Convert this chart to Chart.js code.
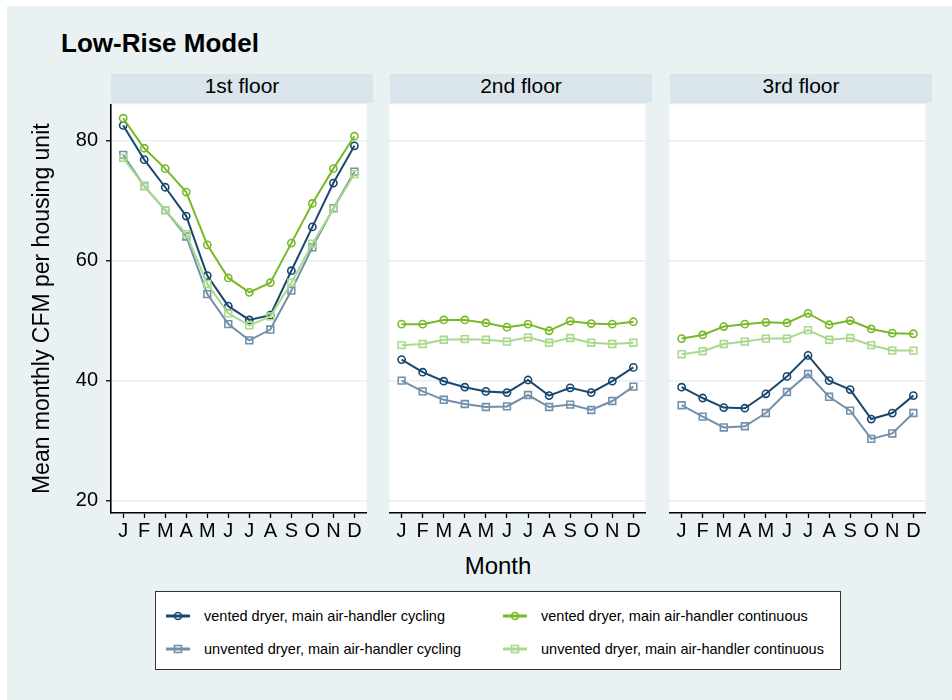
<!DOCTYPE html>
<html>
<head>
<meta charset="utf-8">
<script src="https://cdn.jsdelivr.net/npm/chart.js@4.4.1/dist/chart.umd.min.js"></script>
<style>
  body { margin:0; background:#fff; font-family:"Liberation Sans", Arial, sans-serif; color:#000; }
  #bg { position:absolute; left:7px; top:6px; width:945px; height:694px; background:#eaf1f3; }
  canvas { position:absolute; top:98px; }
  .title { position:absolute; left:61px; top:30px; font-size:26px; font-weight:bold; line-height:26px; white-space:nowrap; }
  .strip { position:absolute; top:74px; width:262px; height:29px; background:#d9e5eb; text-align:center; font-size:21px; line-height:23px; }
  .xtitle { position:absolute; left:398px; width:200px; top:554px; text-align:center; font-size:24px; line-height:24px; }
  #legend { position:absolute; left:155px; top:591px; width:684px; height:77px; background:#fff; border:1px solid #333; }
  .item { position:absolute; font-size:14.5px; line-height:16px; white-space:nowrap; }
  .item svg { position:absolute; left:0; top:2px; }
  .item span { position:absolute; left:38px; top:0; }
</style>
</head>
<body>
<div id="bg"></div>
<div class="title">Low-Rise Model</div>
<div class="strip" style="left:111px">1st floor</div>
<div class="strip" style="left:390px">2nd floor</div>
<div class="strip" style="left:670px">3rd floor</div>
<canvas id="p1" width="353" height="452" style="left:20px"></canvas>
<canvas id="p2" width="269" height="452" style="left:383px"></canvas>
<canvas id="p3" width="269" height="452" style="left:663px"></canvas>
<div class="xtitle">Month</div>
<div id="legend"></div>

<script>
// --- data ---
const months = ["J","F","M","A","M","J","J","A","S","O","N","D"];
const yTicks = [20, 40, 60, 80];
const floors = ["1st floor", "2nd floor", "3rd floor"];

// vented dryer, main air-handler cycling
const ventedCycling1 = [82.5, 76.8, 72.2, 67.4, 57.5, 52.4, 50.1, 50.9, 58.3, 65.6, 72.9, 79.1];
const ventedCycling2 = [43.5, 41.4, 39.9, 38.9, 38.2, 38.0, 40.1, 37.5, 38.8, 38.0, 39.9, 42.2];
const ventedCycling3 = [38.9, 37.1, 35.5, 35.4, 37.8, 40.7, 44.2, 40.0, 38.5, 33.6, 34.6, 37.5];
// vented dryer, main air-handler continuous
const ventedContinuous1 = [83.7, 78.7, 75.3, 71.4, 62.6, 57.1, 54.7, 56.3, 62.9, 69.5, 75.3, 80.7];
const ventedContinuous2 = [49.4, 49.4, 50.1, 50.1, 49.6, 48.9, 49.4, 48.3, 49.9, 49.5, 49.4, 49.8];
const ventedContinuous3 = [47.0, 47.6, 49.0, 49.4, 49.7, 49.6, 51.2, 49.3, 50.0, 48.6, 47.9, 47.8];
// unvented dryer, main air-handler cycling
const unventedCycling1 = [77.6, 72.4, 68.4, 64.0, 54.4, 49.4, 46.7, 48.5, 55.0, 62.2, 68.7, 74.8];
const unventedCycling2 = [40.0, 38.2, 36.8, 36.1, 35.6, 35.7, 37.6, 35.6, 36.0, 35.1, 36.6, 39.0];
const unventedCycling3 = [35.9, 34.0, 32.2, 32.4, 34.6, 38.1, 41.1, 37.3, 35.0, 30.3, 31.2, 34.6];
// unvented dryer, main air-handler continuous
const unventedContinuous1 = [77.1, 72.4, 68.4, 64.4, 56.1, 51.2, 49.2, 50.7, 56.3, 62.8, 68.6, 74.4];
const unventedContinuous2 = [45.9, 46.1, 46.8, 46.9, 46.8, 46.5, 47.2, 46.3, 47.1, 46.3, 46.1, 46.3];
const unventedContinuous3 = [44.4, 44.9, 46.1, 46.5, 47.0, 47.0, 48.4, 46.8, 47.1, 45.9, 45.0, 45.0];

// legend order (row by row, two columns)
const seriesInfo = [
  { label:"vented dryer, main air-handler cycling",      color:"#1a476f", style:"circle", data:[ventedCycling1, ventedCycling2, ventedCycling3] },
  { label:"vented dryer, main air-handler continuous",   color:"#78b928", style:"circle", data:[ventedContinuous1, ventedContinuous2, ventedContinuous3] },
  { label:"unvented dryer, main air-handler cycling",    color:"#7290aa", style:"rect",   data:[unventedCycling1, unventedCycling2, unventedCycling3] },
  { label:"unvented dryer, main air-handler continuous", color:"#a8d98c", style:"rect",   data:[unventedContinuous1, unventedContinuous2, unventedContinuous3] }
];
// stata draws in plot order: cycling first, continuous later
const drawOrder = [4, 2, 3, 1];

// white plot region
const plotBg = {
  id: "plotBg",
  beforeDraw(c) {
    const a = c.chartArea;
    c.ctx.save();
    c.ctx.fillStyle = "#fff";
    c.ctx.fillRect(a.left, a.top, a.right - a.left, a.bottom - a.top);
    c.ctx.restore();
  }
};

function noPad(s) {
  s.paddingLeft = 0; s.paddingRight = 0; s.paddingTop = 0; s.paddingBottom = 0;
}

function makePanel(id, f, showY) {
  const datasets = seriesInfo.map((s, k) => ({
    label: s.label,
    data: s.data[f].map((v, i) => ({ x: i + 1, y: v })),
    borderColor: s.color,
    borderWidth: 2,
    pointStyle: s.style,
    pointRadius: s.style === "circle" ? 3.6 : 4.8,
    pointBorderWidth: 1.6,
    pointBorderColor: s.color,
    pointBackgroundColor: "rgba(0,0,0,0)",
    tension: 0,
    order: drawOrder[k]
  }));
  return new Chart(document.getElementById(id), {
    type: "line",
    data: { datasets },
    options: {
      responsive: false,
      animation: false,
      layout: { padding: { top: 5, right: 0, left: 0, bottom: 0 } },
      plugins: { legend: { display: false }, tooltip: { enabled: false } },
      scales: {
        x: {
          type: "linear", min: 0.42, max: 12.58,
          afterBuildTicks: s => { s.ticks = months.map((m, i) => ({ value: i + 1 })); },
          afterFit: s => { s.height = 37; noPad(s); },
          ticks: { autoSkip: false, maxRotation: 0, padding: 1, color: "#000",
                   font: { family: "Liberation Sans", size: 20 },
                   callback: v => months[v - 1] },
          grid: { drawOnChartArea: false, tickLength: 5, tickColor: "#000", tickWidth: 1.3 },
          border: { color: "#000", width: 1.6 }
        },
        y: {
          min: 17.95, max: 86,
          afterBuildTicks: s => { s.ticks = yTicks.map(v => ({ value: v })); },
          afterFit: s => { s.width = showY ? 91 : 0; noPad(s); },
          ticks: { display: showY, padding: 8, color: "#000",
                   font: { family: "Liberation Sans", size: 20 } },
          grid: { color: "#e7f0f2", lineWidth: 1.5, drawTicks: showY, tickLength: 5, tickColor: "#000", tickWidth: 1.3 },
          border: { display: showY, color: "#000", width: 1.6 },
          title: { display: showY, text: "Mean monthly CFM per housing unit", color: "#000",
                   font: { family: "Liberation Sans", size: 23 }, padding: { top: 9, bottom: 0 } }
        }
      }
    },
    plugins: [plotBg]
  });
}

makePanel("p1", 0, true);
makePanel("p2", 1, false);
makePanel("p3", 2, false);

// legend
const legend = document.getElementById("legend");
const legendPos = [[10, 16], [347, 16], [10, 49], [347, 49]];
seriesInfo.forEach((s, k) => {
  const mark = s.style === "circle"
    ? `<circle cx="12" cy="6" r="3.5" fill="none" stroke="${s.color}" stroke-width="1.6"/>`
    : `<rect x="8.5" y="2.5" width="7" height="7" fill="none" stroke="${s.color}" stroke-width="1.6"/>`;
  const div = document.createElement("div");
  div.className = "item";
  div.style.left = legendPos[k][0] + "px";
  div.style.top = legendPos[k][1] + "px";
  div.innerHTML = `<svg width="24" height="12"><line x1="0" y1="6" x2="24" y2="6" stroke="${s.color}" stroke-width="3"/>${mark}</svg><span>${s.label}</span>`;
  legend.appendChild(div);
});
</script>
</body>
</html>
